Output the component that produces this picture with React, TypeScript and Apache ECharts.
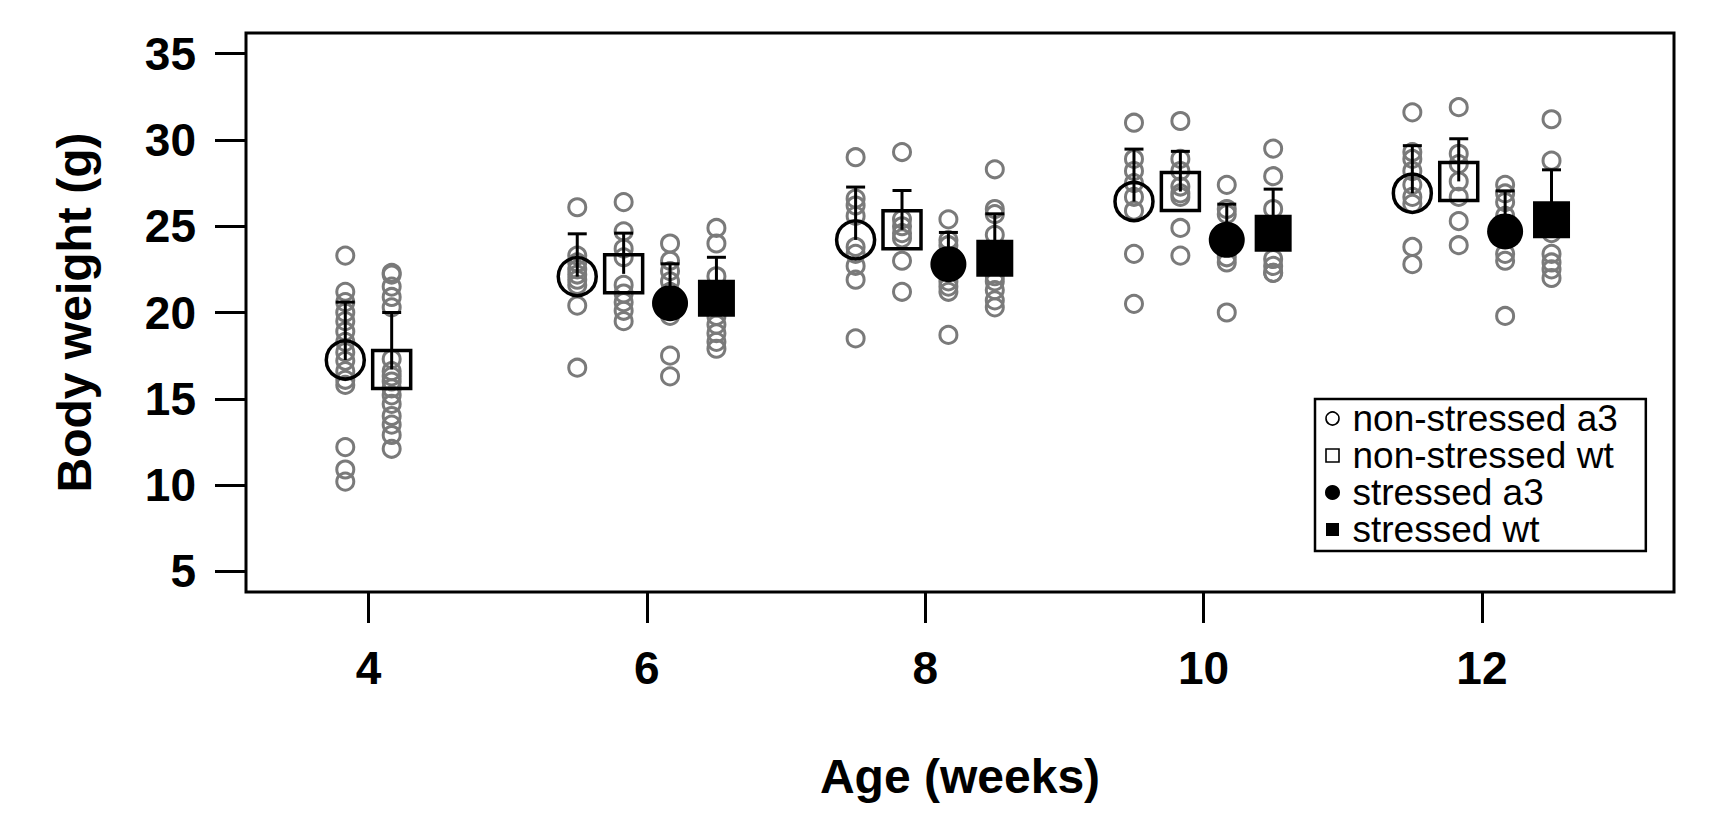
import React, { useEffect, useRef } from "react";
import * as echarts from "echarts";

// ---------- data ----------
const weeks = [4, 6, 8, 10, 12];
const stressedWeeks = [6, 8, 10, 12];
const xTicks = [4, 6, 8, 10, 12];
const yTicks = [5, 10, 15, 20, 25, 30, 35];

const groupNames = ["non-stressed a3", "non-stressed wt", "stressed a3", "stressed wt"];

// individual body weights (g), one list per week
const nsA3Points = [
  [23.3, 21.2, 20.6, 20.0, 19.5, 18.9, 18.3, 17.7, 17.2, 16.6, 16.1, 15.8, 12.2, 10.9, 10.2],
  [26.1, 23.3, 22.9, 22.5, 22.2, 21.9, 21.6, 20.4, 16.8],
  [29.0, 26.6, 26.2, 25.6, 23.8, 23.4, 22.7, 21.9, 18.5],
  [31.0, 28.9, 28.2, 27.5, 26.7, 25.9, 23.4, 20.5],
  [31.6, 29.3, 28.9, 28.2, 27.4, 26.7, 26.3, 23.8, 22.8],
];
const nsWtPoints = [
  [22.3, 22.2, 21.5, 20.9, 20.3, 17.3, 16.6, 16.3, 16.0, 15.6, 15.2, 14.7, 14.0, 13.5, 12.9, 12.1],
  [26.4, 24.7, 23.7, 23.2, 21.6, 21.1, 20.6, 20.1, 19.5],
  [29.3, 25.4, 25.0, 24.6, 24.3, 23.0, 21.2],
  [31.1, 28.9, 28.2, 27.3, 26.9, 26.7, 24.9, 23.3],
  [31.9, 29.2, 28.6, 27.6, 26.7, 25.3, 23.9],
];
const sA3Points = [
  [24.0, 23.0, 22.4, 21.8, 21.2, 20.5, 19.8, 17.5, 16.3],
  [25.4, 24.2, 23.9, 23.0, 22.4, 21.8, 21.5, 21.2, 18.7],
  [27.4, 26.0, 25.7, 24.5, 23.8, 23.2, 22.9, 20.0],
  [27.4, 26.9, 26.4, 25.6, 24.5, 23.4, 23.0, 19.8],
];
const sWtPoints = [
  [24.9, 24.0, 22.1, 21.0, 20.3, 19.8, 19.3, 18.8, 18.3, 17.9],
  [28.3, 26.0, 25.7, 24.5, 23.5, 22.1, 21.8, 21.3, 20.7, 20.3],
  [29.5, 27.9, 26.0, 25.0, 23.1, 22.7, 22.3, 22.3],
  [31.2, 28.8, 25.4, 24.6, 23.4, 22.9, 22.5, 22.0],
];

// group means and mean + SD (top of error bar)
const nsA3Mean = [17.25, 22.08, 24.21, 26.43, 26.91];
const nsA3Upper = [20.6, 24.56, 27.27, 29.47, 29.67];
const nsWtMean = [16.7, 22.24, 24.79, 27.01, 27.6];
const nsWtUpper = [20.0, 24.6, 27.07, 29.34, 30.07];
const sA3Mean = [20.54, 22.8, 24.21, 24.7];
const sA3Upper = [22.82, 24.64, 26.28, 27.05];
const sWtMean = [20.83, 23.14, 24.6, 25.37];
const sWtUpper = [23.2, 25.72, 27.15, 28.27];

// ---------- layout ----------
const OFFSETS_WEEK4 = [-1 / 6, 1 / 6];
const OFFSETS = [-0.5, -1 / 6, 1 / 6, 0.5];
const groupX = (week: number, g: number) =>
  week + (week === 4 ? OFFSETS_WEEK4[g] : OFFSETS[g]);

const FONT = "'Liberation Sans', Arial, Helvetica, sans-serif";
const GRAY = "#7a7a7a";
const SQUARE = "path://M0,0L10,0L10,10L0,10Z";

const groups = [
  { name: groupNames[0], wk: weeks, pts: nsA3Points, mean: nsA3Mean, upper: nsA3Upper, symbol: "circle", filled: false },
  { name: groupNames[1], wk: weeks, pts: nsWtPoints, mean: nsWtMean, upper: nsWtUpper, symbol: "rect", filled: false },
  { name: groupNames[2], wk: stressedWeeks, pts: sA3Points, mean: sA3Mean, upper: sA3Upper, symbol: "circle", filled: true },
  { name: groupNames[3], wk: stressedWeeks, pts: sWtPoints, mean: sWtMean, upper: sWtUpper, symbol: "rect", filled: true },
];

function buildOption() {
  const series: any[] = [];
  groups.forEach((g, gi) => {
    series.push({
      name: "individual " + g.name,
      type: "scatter",
      z: 2,
      symbol: "circle",
      symbolSize: 17,
      itemStyle: { color: "transparent", borderColor: GRAY, borderWidth: 3, opacity: 1 },
      data: g.wk.flatMap((w, i) => g.pts[i].map((v) => [groupX(w, gi), v])),
      silent: true,
    });
  });
  groups.forEach((g, gi) => {
    series.push({
      name: g.name,
      type: "scatter",
      z: 3,
      symbol: g.symbol,
      symbolSize: g.filled ? (g.symbol === "circle" ? 36 : 37) : 38,
      itemStyle: g.filled
        ? { color: "#000", borderWidth: 0, opacity: 1 }
        : { color: "transparent", borderColor: "#000", borderWidth: 3.5, opacity: 1 },
      data: g.wk.map((w, i) => [groupX(w, gi), g.mean[i]]),
      silent: true,
    });
  });
  groups.forEach((g, gi) => {
    series.push({
      name: "sd " + g.name,
      type: "custom",
      z: 4,
      silent: true,
      encode: { x: 0, y: [1, 2] },
      data: g.wk.map((w, i) => [groupX(w, gi), g.mean[i], g.upper[i]]),
      renderItem: (params: any, api: any) => {
        const p0 = api.coord([api.value(0), api.value(1)]);
        const p1 = api.coord([api.value(0), api.value(2)]);
        const st = { stroke: "#000", lineWidth: 3 };
        return {
          type: "group",
          children: [
            { type: "line", shape: { x1: p0[0], y1: p0[1], x2: p1[0], y2: p1[1] }, style: st },
            { type: "line", shape: { x1: p1[0] - 9.5, y1: p1[1], x2: p1[0] + 9.5, y2: p1[1] }, style: st },
          ],
        };
      },
    });
  });

  return {
    animation: false,
    backgroundColor: "#fff",
    textStyle: { fontFamily: FONT },
    grid: {
      left: 246,
      right: 36,
      top: 33,
      bottom: 234,
      show: true,
      borderColor: "#000",
      borderWidth: 3,
      backgroundColor: "transparent",
    },
    legend: {
      orient: "vertical",
      left: 1315,
      top: 399,
      padding: [1, 28, 3, 10],
      borderColor: "#000",
      borderWidth: 2.5,
      backgroundColor: "#fff",
      itemWidth: 30,
      itemHeight: 13,
      itemGap: 0,
      selectedMode: false,
      textStyle: { fontSize: 37, color: "#000", fontFamily: FONT, lineHeight: 37 },
      data: [
        { name: groupNames[0], icon: "circle", itemStyle: { color: "transparent", borderColor: "#000", borderWidth: 1.6, opacity: 1 } },
        { name: groupNames[1], icon: SQUARE, itemStyle: { color: "transparent", borderColor: "#000", borderWidth: 1.6, opacity: 1 } },
        { name: groupNames[2], icon: "circle", itemStyle: { color: "#000", borderColor: "#000", borderWidth: 2, opacity: 1 } },
        { name: groupNames[3], icon: SQUARE, itemStyle: { color: "#000", borderWidth: 0, opacity: 1 } },
      ],
    },
    xAxis: {
      type: "value",
      min: 3.12,
      max: 13.38,
      axisLine: { show: false },
      splitLine: { show: false },
      axisTick: {
        show: true,
        customValues: xTicks,
        length: 31,
        lineStyle: { color: "#000", width: 3 },
      },
      axisLabel: {
        customValues: xTicks,
        fontSize: 46,
        fontWeight: "bold",
        color: "#000",
        fontFamily: FONT,
        margin: 53,
      },
      name: "Age (weeks)",
      nameLocation: "middle",
      nameGap: 160,
      nameTextStyle: { fontSize: 48, fontWeight: "bold", color: "#000", fontFamily: FONT },
    },
    yAxis: {
      type: "value",
      min: 3.8,
      max: 36.2,
      axisLine: { show: false },
      splitLine: { show: false },
      axisTick: {
        show: true,
        customValues: yTicks,
        length: 31,
        lineStyle: { color: "#000", width: 3 },
      },
      axisLabel: {
        customValues: yTicks,
        fontSize: 46,
        fontWeight: "bold",
        color: "#000",
        fontFamily: FONT,
        margin: 50,
      },
      name: "Body weight (g)",
      nameLocation: "middle",
      nameGap: 148,
      nameTextStyle: { fontSize: 48, fontWeight: "bold", color: "#000", fontFamily: FONT },
    },
    series,
  };
}

export default function App() {
  const ref = useRef<HTMLDivElement>(null);
  useEffect(() => {
    if (!ref.current) return;
    const chart = echarts.init(ref.current, undefined, { renderer: "svg" });
    chart.setOption(buildOption() as any);
    return () => chart.dispose();
  }, []);
  return (
    <div
      ref={ref}
      style={{ position: "fixed", left: 0, top: 0, width: 1710, height: 826, background: "#fff" }}
    />
  );
}
